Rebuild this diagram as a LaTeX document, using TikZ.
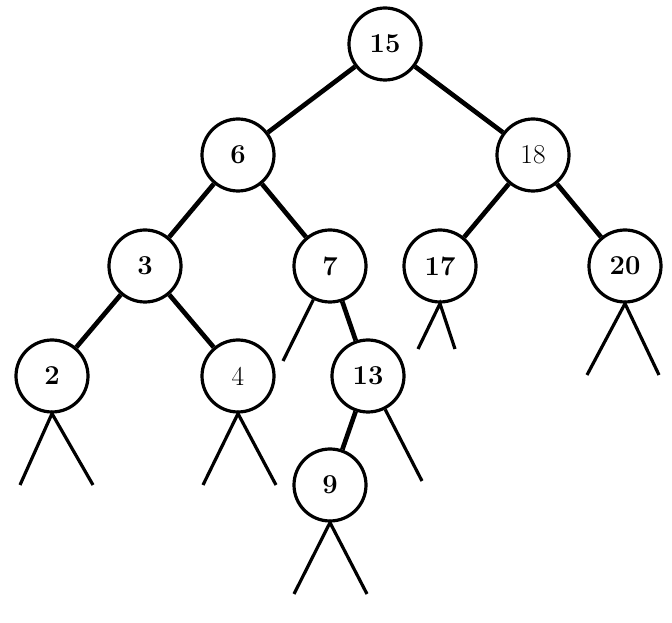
\documentclass[tikz,border=0pt]{standalone}
\usepackage{fontspec}
\begin{document}
\begin{tikzpicture}[x=0.75pt,y=-0.75pt,
  tnode/.style={circle,draw,line width=2.4pt,minimum size=54pt,inner sep=0pt,font=\fontsize{20.5}{24}\selectfont\bfseries},
  tnodereg/.style={tnode,font=\fontsize{20.5}{24}\selectfont\mdseries},
  edge/.style={line width=3.5pt},
  stub/.style={line width=2.4pt}]
\useasboundingbox (0,0) rectangle (672,623);
\node[tnode] (n15) at (385,44) {15};
\node[tnode] (n6) at (238,155) {6};
\node[tnodereg] (n18) at (533,155) {18};
\node[tnode] (n3) at (145,266) {3};
\node[tnode] (n7) at (330,266) {7};
\node[tnode] (n17) at (440,266) {17};
\node[tnode] (n20) at (625,266) {20};
\node[tnode] (n2) at (52,376) {2};
\node[tnodereg] (n4) at (238,376) {4};
\node[tnode] (n13) at (368,376) {13};
\node[tnode] (n9) at (330,485) {9};
\draw[edge] (n15) -- (n6);
\draw[edge] (n15) -- (n18);
\draw[edge] (n6) -- (n3);
\draw[edge] (n6) -- (n7);
\draw[edge] (n18) -- (n17);
\draw[edge] (n18) -- (n20);
\draw[edge] (n3) -- (n2);
\draw[edge] (n3) -- (n4);
\draw[edge] (n7) -- (n13);
\draw[edge] (n13) -- (n9);
\coordinate (l2a) at (20,485); \coordinate (l2b) at (93,485);
\coordinate (l4a) at (203,485); \coordinate (l4b) at (276,485);
\coordinate (l9a) at (294,594); \coordinate (l9b) at (367,594);
\coordinate (l7) at (283,361);
\coordinate (l13) at (422,481);
\coordinate (l17a) at (418,349); \coordinate (l17b) at (455,349);
\coordinate (l20a) at (587,375); \coordinate (l20b) at (659,375);
\draw[stub] (l2a) -- (n2.south) -- (l2b);
\draw[stub] (l4a) -- (n4.south) -- (l4b);
\draw[stub] (l9a) -- (n9.south) -- (l9b);
\draw[stub] (l17a) -- (n17.south) -- (l17b);
\draw[stub] (l20a) -- (n20.south) -- (l20b);
\draw[stub] (n7) -- (l7);
\draw[stub] (n13) -- (l13);
\end{tikzpicture}
\end{document}
